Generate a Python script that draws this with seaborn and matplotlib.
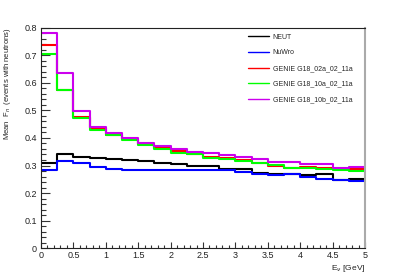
import numpy as np
import pandas as pd
import matplotlib
matplotlib.use("Agg")
import matplotlib.pyplot as plt
from matplotlib.lines import Line2D
from matplotlib.ticker import MultipleLocator, FormatStrFormatter
import seaborn as sns

# ---- data ----
bin_edges = [0.0, 0.25, 0.5, 0.75, 1.0, 1.25, 1.5, 1.75, 2.0, 2.25, 2.5,
             2.75, 3.0, 3.25, 3.5, 3.75, 4.0, 4.25, 4.5, 4.75, 5.0]
series_names = ["NEUT", "NuWro", "GENIE G18_02a_02_11a",
                "GENIE G18_10a_02_11a", "GENIE G18_10b_02_11a"]
neut = [0.310, 0.341, 0.332, 0.326, 0.323, 0.320, 0.317, 0.309, 0.306, 0.300,
        0.297, 0.286, 0.289, 0.272, 0.268, 0.270, 0.266, 0.268, 0.248, 0.251]
nuwro = [0.283, 0.318, 0.308, 0.294, 0.288, 0.285, 0.284, 0.284, 0.284, 0.282,
         0.282, 0.282, 0.278, 0.269, 0.266, 0.269, 0.257, 0.251, 0.248, 0.245]
genie_02a = [0.737, 0.575, 0.476, 0.435, 0.412, 0.395, 0.378, 0.362, 0.352, 0.341,
             0.331, 0.326, 0.320, 0.308, 0.298, 0.292, 0.296, 0.290, 0.286, 0.286]
genie_10a = [0.704, 0.572, 0.473, 0.430, 0.409, 0.392, 0.375, 0.360, 0.346, 0.340,
             0.328, 0.324, 0.318, 0.310, 0.302, 0.292, 0.292, 0.288, 0.284, 0.280]
genie_10b = [0.780, 0.634, 0.497, 0.440, 0.416, 0.399, 0.382, 0.371, 0.360, 0.350,
             0.347, 0.338, 0.329, 0.323, 0.312, 0.311, 0.306, 0.305, 0.292, 0.296]
colors = ["#000000", "#0000ff", "#ff0000", "#00ff00", "#cc00ee"]
x_ticklabels = ["0", "0.5", "1", "1.5", "2", "2.5", "3", "3.5", "4", "4.5", "5"]

values = [neut, nuwro, genie_02a, genie_10a, genie_10b]
edges = np.array(bin_edges)
centers = (edges[:-1] + edges[1:]) / 2

sns.set_style("ticks")
plt.rcParams["font.family"] = ["Liberation Sans", "DejaVu Sans"]

fig = plt.figure(figsize=(4.07, 2.76), dpi=100)
ax = fig.add_axes([41 / 407, 1 - 248.3 / 276, 324 / 407, 220.8 / 276])

for name, vals, col in zip(series_names, values, colors):
    df = pd.DataFrame({"E": centers, "F": vals})
    sns.histplot(data=df, x="E", weights="F", bins=list(bin_edges), element="step",
                 fill=False, color=col, linewidth=1.5, ax=ax)

ax.set_xlim(0, 5)
ax.set_ylim(0, 0.8)
ax.set_xticks(np.arange(0, 5.01, 0.5))
ax.set_xticklabels(x_ticklabels)
ax.xaxis.set_minor_locator(MultipleLocator(0.1))
ax.yaxis.set_major_locator(MultipleLocator(0.1))
ax.yaxis.set_major_formatter(FormatStrFormatter("%g"))
ax.yaxis.set_minor_locator(MultipleLocator(0.02))
ax.tick_params(axis="both", which="both", direction="in", labelsize=6.5,
               colors="#333333", width=0.8, labelcolor="#222222")
ax.tick_params(axis="y", which="major", length=6.5, pad=3)
ax.tick_params(axis="y", which="minor", length=3.5)
ax.tick_params(axis="x", which="major", length=4.5, pad=2)
ax.tick_params(axis="x", which="minor", length=2.3)

for s in ["left", "bottom", "top"]:
    ax.spines[s].set_color("#222222")
    ax.spines[s].set_linewidth(0.8)
ax.spines["right"].set_visible(True)
ax.spines["right"].set_color("#aaaaaa")
ax.spines["right"].set_linewidth(1.5)

ax.set_ylabel(r"Mean  F$_{n}$  (events with neutrons)", fontsize=5.5, loc="top",
              color="#222222")
ax.yaxis.set_label_coords(-0.085, 1.0)
ax.set_xlabel(r"E$_{\nu}$ [GeV]", fontsize=6, loc="right", color="#222222")
ax.xaxis.set_label_coords(1.0, -0.065)

handles = [Line2D([0], [0], color=c, lw=1.0) for c in colors]
ax.legend(handles, series_names, loc="upper left", bbox_to_anchor=(0.639, 0.972),
          frameon=False, fontsize=5.0, handlelength=3.0, handletextpad=0.55,
          labelspacing=1.25, borderpad=0, borderaxespad=0)

fig.savefig("out.png", dpi=100)
